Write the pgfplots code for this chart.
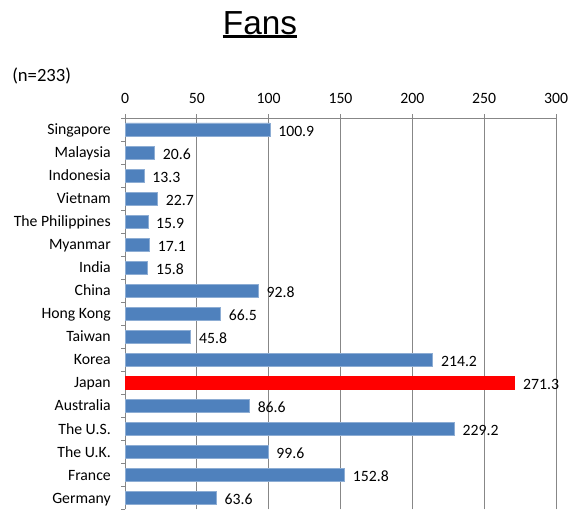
\documentclass[border=0pt]{standalone}
\usepackage{fontspec}
\setmainfont{Carlito}
\newfontfamily\arialfont{Liberation Sans}
\usepackage{pgfplots}
\pgfplotsset{compat=1.18}
\definecolor{barblue}{HTML}{4F81BD}
\definecolor{gridgray}{HTML}{878787}

\begin{document}
\begin{tikzpicture}
\useasboundingbox (0,0) rectangle (435.75pt,384pt);
% title and sample size
\node[anchor=base, inner sep=0pt] (t) at (195pt,358.5pt) {\arialfont\fontsize{25}{30}\selectfont Fans};
\draw[line width=2.2pt] ([yshift=-1.6pt]t.base west) -- ([yshift=-1.6pt]t.base east);
\node[anchor=west, inner sep=0pt] at (9pt,327pt) {\fontsize{14}{16}\selectfont (n=233)};

\begin{axis}[
    at={(93.75pt,1.9pt)}, anchor=south west,
    scale only axis,
    width=323.25pt, height=293.4pt,
    xmin=0, xmax=300,
    ymin=-0.5, ymax=16.5,
    axis x line*=top,
    axis y line*=left,
    axis line style={draw=gridgray, line width=0.75pt},
    xtick={0,50,...,300},
    xmajorgrids,
    grid style={draw=gridgray, line width=0.75pt},
    tick align=outside,
    major tick length=3pt,
    tick style={draw=gridgray, line width=0.75pt},
    ytick={-0.5,0.5,...,16.5},
    yticklabels={},
    extra y ticks={0,...,16},
    extra y tick labels={Germany,France,The U.K.,The U.S.,Australia,Japan,Korea,Taiwan,Hong Kong,China,India,Myanmar,The Philippines,Vietnam,Indonesia,Malaysia,Singapore},
    extra y tick style={major tick length=0pt,
        yticklabel style={anchor=base east, inner sep=0pt, xshift=-10.5pt, yshift=-3.8pt}},
    ticklabel style={font=\fontsize{11.8}{14}\selectfont},
    /pgf/number format/assume math mode=true,
    xticklabel style={anchor=base, inner sep=0pt, yshift=8pt},
    xbar, bar width=0.59, bar shift=0pt,
    nodes near coords={\pgfmathprintnumber[fixed,fixed zerofill,precision=1,assume math mode=true]{\pgfplotspointmeta}},
    nodes near coords style={anchor=base west, inner sep=0pt, xshift=6pt, yshift=-5pt,
        font=\fontsize{11.8}{14}\selectfont, text=black},
    clip=false,
]
\addplot[fill=barblue, draw=barblue!65!white, line width=0.5pt] coordinates {
    (63.6,0) (152.8,1) (99.6,2) (229.2,3) (86.6,4)
    (214.2,6) (45.8,7) (66.5,8) (92.8,9) (15.8,10) (17.1,11)
    (15.9,12) (22.7,13) (13.3,14) (20.6,15) (100.9,16)
};
\addplot[fill=red, draw=red, line width=0.5pt] coordinates {
    (271.3,5)
};
\end{axis}
\end{tikzpicture}
\end{document}
